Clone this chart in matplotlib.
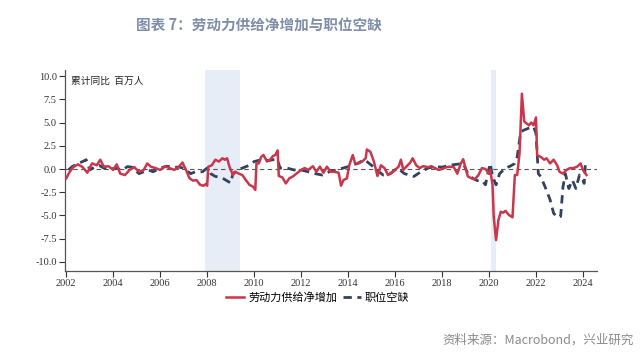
import matplotlib
matplotlib.use('Agg')
import matplotlib.pyplot as plt
import numpy as np

plt.rcParams['font.family'] = ['Noto Sans CJK SC', 'DejaVu Sans']
plt.rcParams['axes.unicode_minus'] = False

# 劳动力供给净增加 (累计同比, 百万人)
supply_t = [2002.0, 2002.15, 2002.3, 2002.5, 2002.7, 2002.9, 2003.1, 2003.3, 2003.45, 2003.6,
            2003.8, 2004.0, 2004.15, 2004.3, 2004.5, 2004.7, 2004.9, 2005.1, 2005.3, 2005.45,
            2005.6, 2005.8, 2006.0, 2006.2, 2006.4, 2006.6, 2006.8, 2006.95, 2007.1, 2007.25,
            2007.4, 2007.55, 2007.7, 2007.85, 2007.95, 2008.0, 2008.05, 2008.2, 2008.35, 2008.5,
            2008.65, 2008.75, 2008.85, 2008.95, 2009.1, 2009.2, 2009.35, 2009.5, 2009.65, 2009.8,
            2009.95, 2010.05, 2010.1, 2010.2, 2010.3, 2010.4, 2010.55, 2010.7, 2010.8, 2010.9,
            2011.0, 2011.05, 2011.2, 2011.35, 2011.5, 2011.65, 2011.8, 2012.0, 2012.15, 2012.3,
            2012.5, 2012.65, 2012.8, 2012.95, 2013.1, 2013.25, 2013.4, 2013.6, 2013.7, 2013.8,
            2013.95, 2014.05, 2014.2, 2014.3, 2014.45, 2014.6, 2014.75, 2014.8, 2014.95, 2015.1,
            2015.25, 2015.4, 2015.55, 2015.7, 2015.85, 2016.0, 2016.15, 2016.25, 2016.35, 2016.5,
            2016.65, 2016.75, 2016.9, 2017.05, 2017.2, 2017.4, 2017.55, 2017.7, 2017.85, 2018.0,
            2018.2, 2018.35, 2018.5, 2018.65, 2018.8, 2018.9, 2019.0, 2019.1, 2019.25, 2019.4,
            2019.55, 2019.7, 2019.85, 2020.0, 2020.05, 2020.15, 2020.2, 2020.3, 2020.4, 2020.5,
            2020.6, 2020.7, 2020.85, 2021.0, 2021.1, 2021.2, 2021.3, 2021.4, 2021.5, 2021.6,
            2021.7, 2021.8, 2021.9, 2022.0, 2022.05, 2022.2, 2022.35, 2022.45, 2022.6, 2022.75,
            2022.9, 2023.0, 2023.15, 2023.3, 2023.45, 2023.6, 2023.75, 2023.9, 2024.0, 2024.05,
            2024.15]
supply_v = [-1.0, -0.3, 0.2, 0.5, 0.2, -0.4, 0.6, 0.4, 1.0, 0.25,
            0.3, -0.1, 0.5, -0.5, -0.65, -0.1, 0.2, -0.3, -0.1, 0.6,
            0.25, 0.1, -0.1, 0.3, 0.1, -0.1, 0.25, 0.7, -0.1, -1.0,
            -1.25, -1.2, -1.7, -1.8, -1.6, -1.8, 0.25, 0.4, 1.0, 0.8,
            1.15, 1.0, 1.15, 0.25, -0.65, -0.3, -0.5, -0.65, -1.2, -1.7,
            -1.9, -2.25, 0.6, 0.6, 1.3, 1.5, 0.8, 1.05, 1.4, 1.5,
            2.0, -0.75, -0.9, -1.55, -1.0, -0.8, -0.5, -0.1, 0.1, -0.1,
            0.3, -0.3, 0.25, -0.4, 0.25, -0.3, -0.3, -0.4, -1.8, -1.2,
            -1.0, 0.4, 1.5, 0.6, 0.6, 0.8, 1.15, 2.1, 1.85, 0.8,
            -0.75, 0.4, 0.1, -0.65, -0.4, -0.1, 0.25, 1.0, -0.1, 0.3,
            0.7, 1.15, 0.4, 0.1, 0.3, 0.2, 0.3, 0.1, -0.1, 0.0,
            0.2, 0.25, 0.2, -0.5, 0.6, 1.05, 0.1, -0.8, -1.0, -1.1,
            -0.65, 0.1, 0.0, -0.5, -0.1, -1.7, -5.1, -7.65, -5.5, -4.6,
            -4.7, -4.5, -4.95, -5.2, -0.65, -0.65, 1.7, 8.1, 5.1, 4.9,
            4.7, 5.0, 4.7, 5.55, 1.5, 1.3, 1.0, 1.15, 0.6, 1.0,
            0.4, -0.3, -0.5, -0.1, 0.1, 0.1, 0.25, 0.6, -0.1, -0.3,
            -0.65]

# 职位空缺
vacancy_t = [2002.1, 2002.25, 2002.5, 2002.7, 2002.85, 2003.0, 2003.2, 2003.4, 2003.6, 2003.9,
             2004.1, 2004.4, 2004.6, 2004.8, 2005.1, 2005.3, 2005.5, 2005.7, 2006.0, 2006.3,
             2006.5, 2006.8, 2007.0, 2007.3, 2007.5, 2007.8, 2008.0, 2008.15, 2008.35, 2008.6,
             2008.8, 2009.0, 2009.1, 2009.3, 2009.5, 2009.8, 2010.0, 2010.3, 2010.6, 2010.8,
             2011.0, 2011.1, 2011.4, 2011.7, 2012.0, 2012.3, 2012.6, 2012.9, 2013.2, 2013.5,
             2014.0, 2014.4, 2014.7, 2015.0, 2015.2, 2015.5, 2015.8, 2016.1, 2016.4, 2016.6,
             2016.8, 2017.1, 2017.4, 2017.7, 2018.0, 2018.3, 2018.6, 2018.9, 2019.1, 2019.3,
             2019.5, 2019.7, 2019.85, 2019.95, 2020.05, 2020.15, 2020.3, 2020.45, 2020.7, 2020.9,
             2021.1, 2021.2, 2021.35, 2021.5, 2021.7, 2021.9, 2022.0, 2022.1, 2022.2, 2022.4,
             2022.6, 2022.75, 2022.9, 2023.05, 2023.15, 2023.25, 2023.4, 2023.55, 2023.7, 2023.85,
             2024.0, 2024.05, 2024.1]
vacancy_v = [-0.1, 0.25, 0.6, 0.8, 1.0, -0.1, 0.2, 0.4, 0.1, 0.0,
             0.1, -0.1, 0.25, 0.2, -0.5, -0.3, -0.1, -0.3, 0.1, 0.3,
             0.2, 0.2, 0.1, -0.5, -0.3, -0.3, 0.1, -0.5, -0.8, -0.9,
             -1.2, -1.5, -0.5, -0.1, 0.1, 0.4, 0.8, 1.0, 0.9, 1.0,
             1.0, 0.1, 0.1, -0.1, -0.1, -0.3, -0.5, -0.65, -0.3, -0.1,
             0.25, 0.6, 1.0, 0.4, -0.1, -0.65, -0.5, 0.1, -0.5, -0.65,
             -0.8, -0.3, 0.1, 0.25, 0.2, 0.4, 0.5, 0.6, -0.5, -1.0,
             -1.25, -1.25, -1.7, -0.5, 0.6, -0.8, -1.7, -0.5, 0.1, 0.3,
             0.6, 1.3, 4.0, 4.2, 4.4, 4.55, 3.8, -0.5, -0.8, -2.0,
             -3.3, -4.75, -5.2, -5.1, -1.9, -0.5, -2.1, -1.2, -2.1, -0.65,
             -1.2, -1.55, 0.4]

# NBER 衰退区间
recessions = [(2007.92, 2009.42), (2020.08, 2020.3)]

red = '#c8374b'
navy = '#33425e'

fig = plt.figure(figsize=(6.4, 3.56), dpi=100)
ax = fig.add_axes([0.1016, 0.2388, 0.8313, 0.5646])

for a, b in recessions:
    ax.axvspan(a, b, color='#e6edf7', lw=0, zorder=0)

ax.axhline(0, color='#555555', lw=0.8, ls=(0, (4, 3)), zorder=1)
ax.plot(supply_t, supply_v, color=red, lw=1.8, label='劳动力供给净增加', zorder=3)
ax.plot(vacancy_t, vacancy_v, color=navy, lw=2.0, ls=(0, (3, 2)), label='职位空缺', zorder=2)

ax.set_xlim(2001.95, 2024.6)
ax.set_ylim(-10.97, 10.65)
ax.set_xticks(np.arange(2002, 2025, 2))
ax.set_yticks(np.arange(-10, 10.1, 2.5))
ax.yaxis.set_major_formatter(matplotlib.ticker.FormatStrFormatter('%.1f'))
for lab in ax.get_xticklabels() + ax.get_yticklabels():
    lab.set_fontfamily('Liberation Serif')
    lab.set_fontsize(7.5)
ax.tick_params(direction='out', length=4, width=0.8, colors='#333333', pad=2)
for s in ['top', 'right']:
    ax.spines[s].set_visible(False)
for s in ['left', 'bottom']:
    ax.spines[s].set_color('#555555')
    ax.spines[s].set_linewidth(0.9)

ax.text(0.012, 0.97, '累计同比  百万人', transform=ax.transAxes, fontsize=7,
        va='top', ha='left', color='#222222')

leg = ax.legend(loc='upper center', bbox_to_anchor=(0.475, -0.055), ncol=2, frameon=False,
                fontsize=8, handlelength=1.6, columnspacing=0.5, handletextpad=0.4)

fig.text(0.405, 0.932, '图表 7：劳动力供给净增加与职位空缺', ha='center', va='center',
         fontsize=10.5, fontweight='bold', color='#7f8ea6')
fig.text(0.99, 0.045, '资料来源：Macrobond，兴业研究', ha='right', va='center',
         fontsize=9, color='#8a8a8a')

fig.savefig('out.png', dpi=100)
